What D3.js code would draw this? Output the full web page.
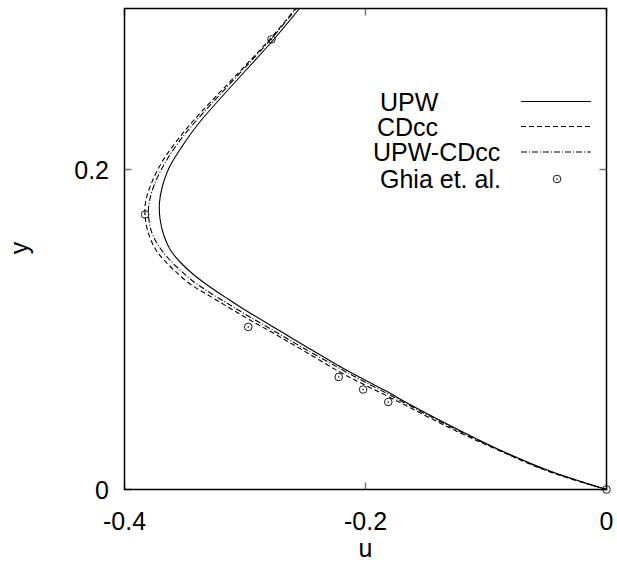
<!DOCTYPE html>
<html>
<head>
<meta charset="utf-8">
<script src="https://cdn.jsdelivr.net/npm/d3@7"></script>
<style>
  body { margin: 0; background: #fff; }
  svg text { font-family: "Liberation Sans", Arial, sans-serif; fill: #000; }
</style>
</head>
<body>
<svg id="chart" width="617" height="567"></svg>
<script>
// u-velocity along the vertical centreline, lower part of the cavity
const upwU = [0, -0.0469, -0.0884, -0.1299, -0.1714, -0.1813, -0.2021, -0.2220, -0.2502, -0.2751, -0.2959, -0.3141, -0.3290, -0.3423, -0.3531, -0.3614, -0.3672, -0.3705, -0.3710, -0.3685, -0.3631, -0.3531, -0.3382, -0.2751, -0.2544];
const upwY = [0, 0.01156, 0.02469, 0.0400, 0.05656, 0.06094, 0.06906, 0.07719, 0.08969, 0.10094, 0.11031, 0.11906, 0.12656, 0.13406, 0.14156, 0.14906, 0.15844, 0.16906, 0.17906, 0.18969, 0.20094, 0.21344, 0.22906, 0.28219, 0.30094];

const cdccU = [0, -0.0469, -0.0884, -0.1299, -0.1714, -0.1813, -0.2021, -0.2220, -0.2502, -0.2751, -0.2959, -0.3141, -0.3307, -0.3456, -0.3581, -0.3672, -0.3739, -0.3805, -0.3830, -0.3822, -0.3772, -0.3689, -0.3573, -0.3423, -0.2784, -0.2577];
const cdccY = [0, 0.01094, 0.02406, 0.03844, 0.05438, 0.05813, 0.06594, 0.07375, 0.08625, 0.09719, 0.10594, 0.11406, 0.12156, 0.12844, 0.13656, 0.14344, 0.14969, 0.16094, 0.17219, 0.18094, 0.19219, 0.20469, 0.21719, 0.23094, 0.28219, 0.30094];

const mixU = [0, -0.0469, -0.0884, -0.1299, -0.1714, -0.1813, -0.2021, -0.2220, -0.2502, -0.2751, -0.2959, -0.3124, -0.3274, -0.3423, -0.3539, -0.3631, -0.3705, -0.3772, -0.3801, -0.3793, -0.3747, -0.3664, -0.3556, -0.3407, -0.2776, -0.2569];
const mixY = [0, 0.01125, 0.02438, 0.03938, 0.05563, 0.05969, 0.06781, 0.07594, 0.08781, 0.09875, 0.10781, 0.11531, 0.12219, 0.12969, 0.13719, 0.14406, 0.15094, 0.16031, 0.17156, 0.18031, 0.19156, 0.20406, 0.21656, 0.23031, 0.28219, 0.30094];

// Ghia, Ghia & Shin (1982), Re = 1000
const ghiaU = [0, -0.18109, -0.20196, -0.22220, -0.29730, -0.38289, -0.27805];
const ghiaY = [0, 0.0547, 0.0625, 0.0703, 0.1016, 0.1719, 0.2813];

const xTicks = [-0.4, -0.2, 0];
const yTicks = [0, 0.2];
const seriesNames = ["UPW", "CDcc", "UPW-CDcc", "Ghia et. al."];

const svg = d3.select("#chart");
const plotL = 124.5, plotR = 606.5, plotT = 8.5, plotB = 489.5;
const fs = 25;

const x = d3.scaleLinear().domain([-0.4, 0]).range([plotL, plotR]);
const y = d3.scaleLinear().domain([0, 0.3]).range([plotB, plotT + 1]);
// plain hyphen-minus, as in the printed axis labels
const fmt = d => String(d);

svg.append("defs").append("clipPath").attr("id", "plotclip")
  .append("rect").attr("x", plotL).attr("y", plotT).attr("width", plotR - plotL).attr("height", plotB - plotT);

// tick marks (inward, mirrored on opposite sides)
const tickLen = 7;
const ticksG = svg.append("g").attr("stroke", "#777").attr("stroke-width", 1.5);
xTicks.forEach(t => {
  ticksG.append("line").attr("x1", x(t)).attr("x2", x(t)).attr("y1", plotB).attr("y2", plotB - tickLen);
  ticksG.append("line").attr("x1", x(t)).attr("x2", x(t)).attr("y1", plotT).attr("y2", plotT + tickLen);
});
yTicks.forEach(t => {
  ticksG.append("line").attr("x1", plotL).attr("x2", plotL + tickLen).attr("y1", y(t)).attr("y2", y(t));
  ticksG.append("line").attr("x1", plotR).attr("x2", plotR - tickLen).attr("y1", y(t)).attr("y2", y(t));
});

// tick labels
svg.append("g").selectAll("text").data(xTicks).join("text")
  .attr("x", d => x(d)).attr("y", 530).attr("text-anchor", "middle")
  .attr("font-size", fs).text(fmt);
svg.append("g").selectAll("text").data(yTicks).join("text")
  .attr("x", 109).attr("y", d => y(d) + 9).attr("text-anchor", "end")
  .attr("font-size", fs).text(fmt);

// axis titles
svg.append("text").attr("x", x(-0.2)).attr("y", 557).attr("text-anchor", "middle")
  .attr("font-size", fs).text("u");
svg.append("text").attr("transform", "translate(28,248) rotate(-90)").attr("text-anchor", "middle")
  .attr("font-size", fs).text("y");

// curves
const line = d3.line().x(d => x(d[0])).y(d => y(d[1])).curve(d3.curveCatmullRom.alpha(0.5));
const zip = (a, b) => a.map((v, i) => [v, b[i]]);
const styles = [
  { u: upwU, y: upwY, dash: null },
  { u: cdccU, y: cdccY, dash: "5,3" },
  { u: mixU, y: mixY, dash: "6,2,1,2" }
];
const curves = svg.append("g").attr("clip-path", "url(#plotclip)");
styles.forEach(s => {
  curves.append("path").attr("d", line(zip(s.u, s.y)))
    .attr("fill", "none").attr("stroke", "#000").attr("stroke-width", 1.1)
    .attr("stroke-dasharray", s.dash);
});

// reference points
const pts = svg.append("g");
zip(ghiaU, ghiaY).forEach(p => {
  pts.append("circle").attr("cx", x(p[0])).attr("cy", y(p[1])).attr("r", 3.8)
    .attr("fill", "none").attr("stroke", "#000").attr("stroke-width", 0.9);
  pts.append("circle").attr("cx", x(p[0])).attr("cy", y(p[1])).attr("r", 0.8).attr("fill", "#000");
});

// frame
svg.append("rect").attr("x", plotL).attr("y", plotT).attr("width", plotR - plotL).attr("height", plotB - plotT)
  .attr("fill", "none").attr("stroke", "#000").attr("stroke-width", 1.5);

// legend
const legendTextX = [380, 377, 373, 380];
const legendRowY = [101.5, 126.5, 152, 179];
const lg = svg.append("g");
seriesNames.forEach((name, i) => {
  lg.append("text").attr("x", legendTextX[i]).attr("y", legendRowY[i] + 9)
    .attr("font-size", fs).text(name);
  if (i < 3) {
    lg.append("line").attr("x1", 521).attr("x2", 591).attr("y1", legendRowY[i]).attr("y2", legendRowY[i])
      .attr("stroke", "#000").attr("stroke-width", 1.1).attr("stroke-dasharray", styles[i].dash);
  } else {
    lg.append("circle").attr("cx", 557).attr("cy", legendRowY[i]).attr("r", 3.8)
      .attr("fill", "none").attr("stroke", "#000").attr("stroke-width", 0.9);
    lg.append("circle").attr("cx", 557).attr("cy", legendRowY[i]).attr("r", 0.8).attr("fill", "#000");
  }
});
</script>
</body>
</html>
